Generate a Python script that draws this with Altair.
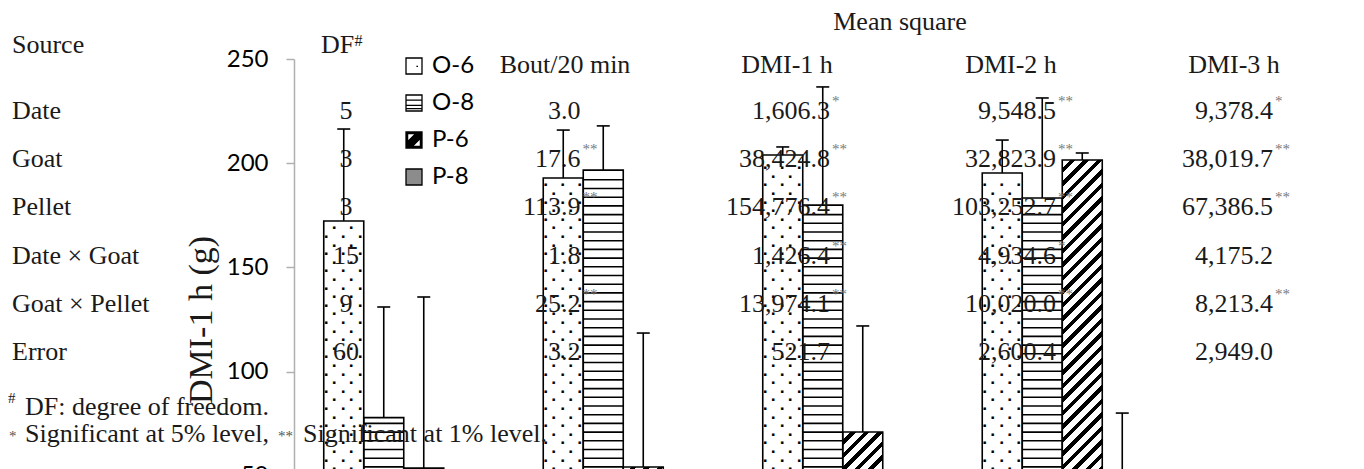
import altair as alt
import pandas as pd

# ---------------- data ----------------
groups = ["Goat A", "Goat B", "Goat C", "Goat D"]
series = ["O-6", "O-8", "P-6", "P-8"]

mean_o6 = [172.3, 192.9, 203.9, 195.3]
mean_o8 = [77.9, 196.7, 179.9, 183.3]
mean_p6 = [53.7, 54.2, 71.0, 201.5]
mean_p8 = [24.0, 19.0, 27.0, 33.0]

err_o6 = [44.1, 23.0, 3.9, 15.8]
err_o8 = [53.1, 21.2, 56.7, 48.0]
err_p6 = [82.1, 64.3, 50.9, 3.4]
err_p8 = [22.0, 25.0, 20.0, 47.1]

y_ticks = [0, 50, 100, 150, 200, 250]

# overlaid ANOVA table
sources = ["Date", "Goat", "Pellet", "Date \u00d7 Goat", "Goat \u00d7 Pellet", "Error"]
df_values = ["5", "3", "3", "15", "9", "60"]
col_headers = ["Bout/20 min", "DMI-1 h", "DMI-2 h", "DMI-3 h"]
bout = ["3.0", "17.6", "113.9", "1.8", "25.2", "3.2"]
bout_sig = ["", "**", "**", "", "**", ""]
dmi1 = ["1,606.3", "38,424.8", "154,776.4", "1,426.4", "13,974.1", "521.7"]
dmi1_sig = ["*", "**", "**", "**", "**", ""]
dmi2 = ["9,548.5", "32,823.9", "103,252.7", "4,934.6", "10,020.0", "2,600.4"]
dmi2_sig = ["**", "**", "**", "*", "**", ""]
dmi3 = ["9,378.4", "38,019.7", "67,386.5", "4,175.2", "8,213.4", "2,949.0"]
dmi3_sig = ["*", "**", "**", "", "**", ""]

# ---------------- layout ----------------
PAD_L, PAD_T, PAD_R, PAD_B = 286, 51, 180, 80
W, H = 878, 521
YMAX = 250
PPU = H / YMAX
OX, OY = 8 + PAD_L, 8 + PAD_T
BAR_W = 40
STRIPE_PX = 8.7
DOT_PX = 8.6

means = [mean_o6, mean_o8, mean_p6, mean_p8]
errs = [err_o6, err_o8, err_p6, err_p8]
rows = []
for s, m, e in zip(series, means, errs):
    for g, mv, ev in zip(groups, m, e):
        rows.append({"group": g, "series": s, "mean": mv, "top": mv + ev})
bars = pd.DataFrame(rows)

# pattern rows derived from the bar values
stripe_rows = []
for g, mv in zip(groups, mean_o8):
    k = 1
    while k * STRIPE_PX < mv * PPU - 2:
        stripe_rows.append({"group": g, "series": "O-8", "level": k * STRIPE_PX / PPU})
        k += 1
stripes = pd.DataFrame(stripe_rows)

dot_rows = []
for g, mv in zip(groups, mean_o6):
    k = 1
    while k * DOT_PX < mv * PPU - 4:
        dot_rows.append({"group": g, "series": "O-6", "level": k * DOT_PX / PPU, "parity": k % 2})
        k += 1
dots = pd.DataFrame(dot_rows)

# ---------------- encodings ----------------
x_scale = alt.Scale(domain=groups, paddingInner=0.271, paddingOuter=0.1355)
x_axis = alt.Axis(title=None, ticks=False, domainColor="#b0b0b0", labelFont="Lato",
                  labelFontSize=24, labelColor="black", labelPadding=8)
y_scale = alt.Scale(domain=[0, YMAX], nice=False)
y_axis = alt.Axis(title="DMI-1 h (g)", values=y_ticks, grid=False, domainColor="#b0b0b0",
                  domainWidth=1.5, tickColor="#b0b0b0", tickWidth=1.5, tickSize=8,
                  labelFont="Lato", labelFontSize=24, labelColor="black", labelPadding=18,
                  titleFont="Liberation Serif", titleFontSize=34, titleFontWeight="normal",
                  titleColor="#1a1a1a", titlePadding=8)


def X():
    return alt.X("group:N", scale=x_scale, axis=x_axis)


def XO():
    return alt.XOffset("series:N", scale=alt.Scale(domain=series, paddingInner=0, paddingOuter=0))


def Y(field):
    return alt.Y(f"{field}:Q", scale=y_scale, axis=y_axis)


def stripe_gradient(h_px, w_px=BAR_W, period=13.5, black=5.5):
    L = w_px + h_px
    c = L / (w_px ** 2 + h_px ** 2)
    stops = [alt.GradientStop(offset=0, color="white")]
    k = 0
    while k * period < L:
        b0 = k * period + (period - black)
        b1 = (k + 1) * period
        if b0 < L:
            o = b0 / L
            stops.append(alt.GradientStop(offset=o, color="white"))
            stops.append(alt.GradientStop(offset=o, color="black"))
            o1 = min(b1 / L, 1.0)
            stops.append(alt.GradientStop(offset=o1, color="black"))
            if b1 < L:
                stops.append(alt.GradientStop(offset=o1, color="white"))
        k += 1
    return alt.LinearGradient(gradient="linear", stops=stops, x1=0, y1=0, x2=c * w_px, y2=c * h_px)


layers = []

# base fill
layers.append(
    alt.Chart(bars).mark_bar(opacity=1, strokeWidth=0).encode(
        x=X(), xOffset=XO(), y=Y("mean"),
        fill=alt.condition("datum.series === 'P-8'", alt.value("#8c8c8c"), alt.value("white")),
    )
)
# diagonal pattern for P-6
for g, mv in zip(groups, mean_p6):
    layers.append(
        alt.Chart(bars).transform_filter(
            f"datum.series === 'P-6' && datum.group === '{g}'"
        ).mark_bar(opacity=1, strokeWidth=0, fill=stripe_gradient(mv * PPU)).encode(
            x=X(), xOffset=XO(), y=Y("mean")
        )
    )
# horizontal lines for O-8
layers.append(
    alt.Chart(stripes).mark_tick(orient="horizontal", size=BAR_W, thickness=1.6,
                                 color="black", opacity=1).encode(
        x=X(), xOffset=XO(), y=Y("level")
    )
)
# dots for O-6 (small square glyphs, staggered)
for parity, offsets in [(0, [-17.5, -0.5, 16.5]), (1, [-9.5, 7.5])]:
    for dx in offsets:
        layers.append(
            alt.Chart(dots).transform_filter(f"datum.parity === {parity}").mark_text(
                text="\u25aa", font="DejaVu Sans", fontSize=5, color="black",
                opacity=1, dx=dx, baseline="middle", align="center"
            ).encode(x=X(), xOffset=XO(), y=Y("level"))
        )
# bar outlines
layers.append(
    alt.Chart(bars).mark_bar(opacity=1, fillOpacity=0, stroke="black", strokeWidth=1.6).encode(
        x=X(), xOffset=XO(), y=Y("mean")
    )
)

# legend (patterned swatches as custom symbol paths)
sym_paths = [
    "M-1,-1H1V1H-1Z M0.3,0.05L0.5,0.05",
    "M-1,-1H1V1H-1Z M-1,-0.35H1 M-1,0.3H1 M-1,0.7H1",
    "M-1,-1H1V1H-1Z M-0.8,-0.8L-0.8,0.2L0.2,-0.8Z M0.8,0.8L0.8,-0.2L-0.2,0.8Z",
    "M-1,-1H1V1H-1Z",
]
leg = alt.Legend(
    title=None, orient="none", legendX=108, legendY=-5, symbolSize=256,
    symbolStrokeColor="black", symbolStrokeWidth=1.3, symbolOpacity=1,
    labelFont="Lato", labelFontSize=24, labelColor="black", labelOffset=6,
    rowPadding=13, padding=0, direction="vertical",
)
layers.append(
    alt.Chart(pd.DataFrame({"series": series})).mark_point(
        filled=True, opacity=0, size=256, strokeWidth=1.3
    ).encode(
        x=alt.value(0), y=alt.value(0),
        fill=alt.Fill("series:N", scale=alt.Scale(domain=series,
                      range=["white", "white", "black", "#8c8c8c"]), legend=leg),
        stroke=alt.Stroke("series:N", scale=alt.Scale(domain=series,
                          range=["black", "black", "black", "black"]), legend=leg),
        shape=alt.Shape("series:N", scale=alt.Scale(domain=series, range=sym_paths), legend=leg),
    )
)

# ---------------- table text ----------------
ROW_Y = [119 + 48.2 * i for i in range(6)]
HEADER_Y = 73
HEADER_X = [565, 787, 1011, 1234]
VALUE_RIGHT = [580.5, 830, 1056, 1273]

left_t, center_t, right_t, sup_t = [], [], [], []


def add(lst, text, xp, yp, col="#1a1a1a", size=26):
    lst.append({"text": text, "x": xp - OX, "y": yp - OY, "col": col, "size": size})


add(center_t, "Mean square", 900, 30)
add(left_t, "Source", 12, 52.5)
add(left_t, "DF", 321, 53)
add(sup_t, "#", 354.5, 46, "#1a1a1a", 16)
for h, xc in zip(col_headers, HEADER_X):
    add(center_t, h, xc, HEADER_Y)
for i, yb in enumerate(ROW_Y):
    add(left_t, sources[i], 12, yb)
    add(center_t, df_values[i], 346, yb)
    for vals, sigs, xr in zip([bout, dmi1, dmi2, dmi3],
                              [bout_sig, dmi1_sig, dmi2_sig, dmi3_sig], VALUE_RIGHT):
        add(right_t, vals[i], xr, yb)
        if sigs[i]:
            add(sup_t, sigs[i], xr + 2, yb - 13, "#7a7a7a", 15)
add(sup_t, "#", 8, 403, "#1a1a1a", 15)
add(left_t, "DF: degree of freedom.", 25, 415)
add(sup_t, "*", 9, 441, "#555555", 15)
add(left_t, "Significant at 5% level,", 25, 441.7)
add(sup_t, "**", 278, 441, "#555555", 15)
add(left_t, "Significant at 1% level.", 303, 441.7)


def text_layer(records, align):
    return alt.Chart(pd.DataFrame(records)).mark_text(
        align=align, baseline="alphabetic", font="Liberation Serif"
    ).encode(
        x=alt.X("x:Q", scale=None, axis=None),
        y=alt.Y("y:Q", scale=None, axis=None),
        text="text:N",
        color=alt.Color("col:N", scale=None),
        size=alt.Size("size:Q", scale=None),
    )


layers.append(text_layer(left_t, "left"))
layers.append(text_layer(center_t, "center"))
layers.append(text_layer(right_t, "right"))
layers.append(text_layer(sup_t, "left"))

# ---------------- error bars ----------------
layers.append(
    alt.Chart(bars).mark_rule(color="black", strokeWidth=1.6, opacity=1).encode(
        x=X(), xOffset=XO(), y=Y("mean"), y2="top:Q"
    )
)
layers.append(
    alt.Chart(bars).mark_tick(orient="horizontal", size=13, thickness=1.6,
                              color="black", opacity=1).encode(
        x=X(), xOffset=XO(), y=Y("top")
    )
)

chart = alt.layer(*layers).properties(
    width=W, height=H,
    autosize=alt.AutoSizeParams(type="none"),
    padding={"left": PAD_L, "top": PAD_T, "right": PAD_R, "bottom": PAD_B},
).configure_view(strokeWidth=0)

chart.save("out.html", embed_options={"renderer": "svg", "actions": False})
